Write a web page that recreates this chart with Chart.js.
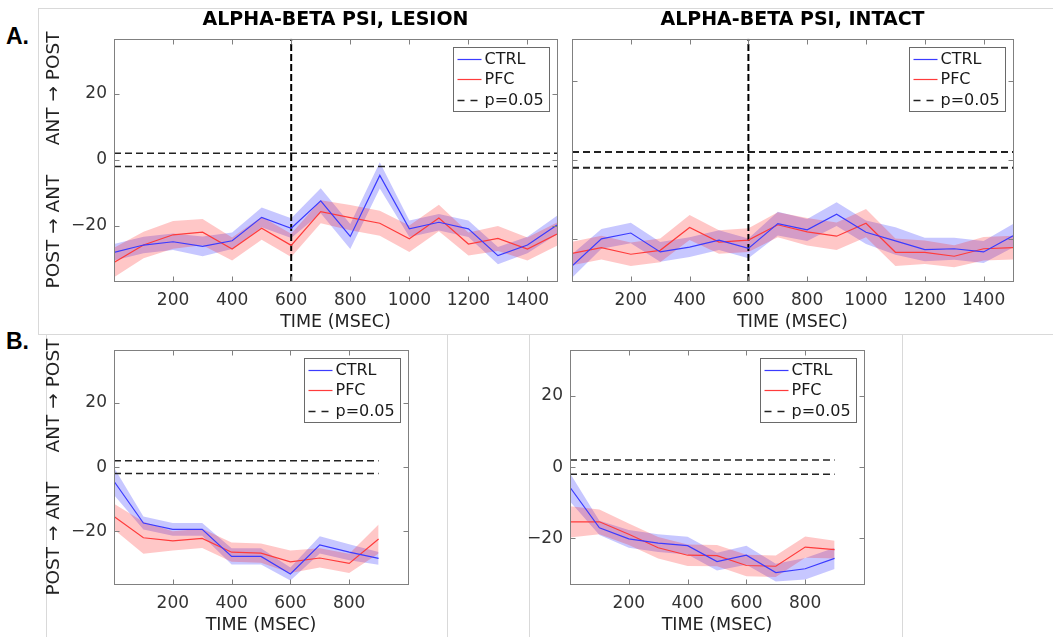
<!DOCTYPE html>
<html>
<head>
<meta charset="utf-8">
<script src="https://cdn.jsdelivr.net/npm/chart.js@4.4.0/dist/chart.umd.min.js"></script>
<style>
  body { margin: 0; width: 1053px; height: 637px; overflow: hidden; background: #fff; position: relative; }
  .box { position: absolute; }
  .frame { position: absolute; border: 0 solid #d9d9d9; }
  .lbl { position: absolute; font: bold 23px 'Liberation Sans', Arial, sans-serif; line-height: 1; color: #000; }
</style>
</head>
<body>
<!-- light panel borders from the pasted figure -->
<div class="frame" style="left:38px;top:8px;width:1015px;height:325px;border-top-width:1px;border-left-width:1px;border-bottom-width:1px"></div>
<div class="frame" style="left:46px;top:334px;width:400px;height:310px;border-left-width:1px;border-right-width:1px"></div>
<div class="frame" style="left:529px;top:334px;width:372px;height:310px;border-left-width:1px;border-right-width:1px"></div>

<div class="lbl" style="left:6px;top:25px">A.</div>
<div class="lbl" style="left:6px;top:330px">B.</div>

<div class="box" style="left:40px;top:0;width:527px;height:336px"><canvas id="aLesion"></canvas></div>
<div class="box" style="left:545px;top:0;width:478px;height:336px"><canvas id="aIntact"></canvas></div>
<div class="box" style="left:40px;top:333px;width:378px;height:306px"><canvas id="bLeft"></canvas></div>
<div class="box" style="left:520px;top:333px;width:354px;height:306px"><canvas id="bRight"></canvas></div>

<script>
// ---- data ----
const timeA = [0, 100, 200, 300, 400, 500, 600, 700, 800, 900, 1000, 1100, 1200, 1300, 1400, 1500];
const timeB = [0, 100, 200, 300, 400, 500, 600, 700, 800, 900];
const xTicksA = [200, 400, 600, 800, 1000, 1200, 1400];
const xTicksB = [200, 400, 600, 800];
const yTicks = [-20, 0, 20];
const sigLevel = [2, -2];
const stimOnset = 600;
const legendLabels = ['CTRL', 'PFC', 'p=0.05'];

const lesionCtrl    = [-28.0, -25.8, -24.8, -26.2, -24.5, -17.4, -20.7, -12.4, -23.2, -4.7, -20.9, -18.9, -20.9, -29.0, -25.8, -19.7];
const lesionCtrlSem = [2.5, 2.5, 2.5, 3, 2.5, 3, 3, 3.8, 3.8, 4, 2.5, 2.5, 2.5, 2.6, 2.5, 2.8];
const lesionPfc     = [-31.1, -25.8, -22.7, -21.9, -27.0, -20.7, -25.9, -15.7, -17.5, -19.2, -23.9, -17.6, -25.5, -23.8, -27.0, -22.5];
const lesionPfcSem  = [4.5, 4, 4.2, 4, 3.5, 3.5, 3.5, 3.5, 3.8, 3.8, 4, 4, 3.5, 3.8, 3.5, 3.5];

const intactCtrl    = [-27.0, -20.1, -18.6, -23.4, -22.2, -20.4, -22.5, -16.2, -17.8, -13.8, -18.4, -20.6, -22.8, -22.6, -23.4, -19.3];
const intactCtrlSem = [3, 2.5, 2.6, 2.5, 2.5, 2.5, 2.5, 3, 2.8, 3, 3, 3.5, 3, 2.8, 2.8, 3];
const intactPfc     = [-23.8, -22.3, -24.0, -23.0, -17.2, -20.9, -20.4, -16.5, -18.3, -19.4, -16.1, -23.5, -23.5, -24.5, -22.6, -22.3];
const intactPfcSem  = [3, 3, 3, 3, 3.2, 3, 3, 3.2, 3.5, 3.5, 3.6, 3.5, 3, 2.8, 3, 3];

const b1Ctrl    = [-4.4, -17.4, -19.4, -19.4, -27.8, -27.8, -33.3, -24.2, -26.5, -28.4];
const b1CtrlSem = [4.3, 2, 2, 2, 2.5, 2.5, 2, 2.7, 2.5, 2];
const b1Pfc     = [-15.4, -22.0, -23.0, -22.2, -26.5, -26.8, -29.5, -28.3, -30.0, -22.4];
const b1PfcSem  = [4, 5, 3, 3, 3, 3, 3.5, 3, 3, 4.5];

const b2Ctrl    = [-5.7, -17.1, -20.2, -21.4, -22.1, -26.6, -24.8, -29.7, -28.6, -25.7];
const b2CtrlSem = [4, 2, 2.5, 2.5, 2.5, 2.5, 2.7, 2.5, 3, 3];
const b2Pfc     = [-15.4, -15.4, -18.9, -22.7, -24.8, -24.9, -27.7, -27.9, -22.5, -23.2];
const b2PfcSem  = [4.4, 3.5, 3, 3, 3, 3, 3, 3, 3, 2.5];

// ---- styling ----
const ctrlColor = '#3b3bff';
const pfcColor = '#ff3b3b';
const ctrlFill = 'rgba(0,0,255,0.22)';
const pfcFill = 'rgba(255,0,0,0.22)';
const axisGrey = '#808080';
const yTitle = 'POST \u2192 ANT\u00a0\u00a0\u00a0\u00a0\u00a0ANT \u2192 POST';

Chart.defaults.font.family = "'DejaVu Sans', sans-serif";
Chart.defaults.color = '#333';

// matlab-like box, inward ticks and legend
const mframe = {
  id: 'mframe',
  afterDraw(chart) {
    const {ctx, chartArea: a, scales: {x, y}} = chart;
    ctx.save();
    ctx.strokeStyle = axisGrey;
    ctx.lineWidth = 1;
    const L = Math.round(a.left) + 0.5, T = Math.round(a.top) + 0.5;
    const R = Math.round(a.right) + 0.5, B = Math.round(a.bottom) + 0.5;
    ctx.strokeRect(L, T, R - L, B - T);
    ctx.beginPath();
    x.ticks.forEach(t => {
      const px = Math.round(x.getPixelForValue(t.value)) + 0.5;
      ctx.moveTo(px, B); ctx.lineTo(px, B - 5);
      ctx.moveTo(px, T); ctx.lineTo(px, T + 5);
    });
    y.ticks.forEach(t => {
      const py = Math.round(y.getPixelForValue(t.value)) + 0.5;
      ctx.moveTo(L, py); ctx.lineTo(L + 5, py);
      ctx.moveTo(R, py); ctx.lineTo(R - 5, py);
    });
    ctx.stroke();

    const w = 96, h = 64;
    const lx = Math.round(a.right - 8 - w) + 0.5, ly = Math.round(a.top + 8) + 0.5;
    ctx.fillStyle = '#fff';
    ctx.fillRect(lx, ly, w, h);
    ctx.strokeStyle = '#6a6a6a';
    ctx.strokeRect(lx, ly, w, h);
    const swatch = [[ctrlColor, [], 1.2], [pfcColor, [], 1.2], ['#222', [7, 6], 1.5]];
    ctx.font = "16px 'DejaVu Sans'";
    ctx.textBaseline = 'middle';
    legendLabels.forEach((lab, i) => {
      const cy = Math.round(ly + 11.6 + i * 20.3) + 0.5;
      ctx.strokeStyle = swatch[i][0];
      ctx.setLineDash(swatch[i][1]);
      ctx.lineWidth = swatch[i][2];
      ctx.beginPath(); ctx.moveTo(lx + 4, cy); ctx.lineTo(lx + 28, cy); ctx.stroke();
      ctx.setLineDash([]);
      ctx.fillStyle = '#1a1a1a';
      ctx.fillText(lab, lx + 31, cy);
    });
    ctx.restore();
  }
};

function pts(t, v) { return t.map((x, i) => ({x: x, y: v[i]})); }

function band(t, mean, sem, fill, order) {
  return [
    {data: pts(t, mean.map((m, i) => m + sem[i])), fill: '+1', backgroundColor: fill, borderWidth: 0, pointRadius: 0, order: order},
    {data: pts(t, mean.map((m, i) => m - sem[i])), fill: false, borderWidth: 0, pointRadius: 0, order: order}
  ];
}

function makeChart(id, o) {
  const xEnd = o.dashEnd;
  const datasets = [
    {data: pts(o.t, o.ctrl), borderColor: ctrlColor, borderWidth: 1.2, pointRadius: 0, fill: false, order: 0},
    {data: pts(o.t, o.pfc), borderColor: pfcColor, borderWidth: 1.2, pointRadius: 0, fill: false, order: 0},
    ...band(o.t, o.ctrl, o.ctrlSem, ctrlFill, 3),
    ...band(o.t, o.pfc, o.pfcSem, pfcFill, 2)
  ];
  sigLevel.forEach(s => datasets.push({
    data: [{x: 0, y: s}, {x: xEnd, y: s}], borderColor: '#222', borderWidth: o.dashW,
    borderDash: [7, 4], pointRadius: 0, fill: false, order: 1
  }));
  if (o.onset) {
    datasets.push({
      data: [{x: stimOnset, y: -o.yLim}, {x: stimOnset, y: o.yLim}], borderColor: '#000', borderWidth: 2,
      borderDash: [7, 3], pointRadius: 0, fill: false, order: 0
    });
  }
  return new Chart(document.getElementById(id), {
    type: 'line',
    data: {datasets: datasets},
    options: {
      responsive: true,
      maintainAspectRatio: false,
      animation: false,
      layout: {padding: {top: o.padTop, right: 10, left: 0, bottom: 0}},
      plugins: {
        legend: {display: false},
        tooltip: {enabled: false},
        title: {
          display: !!o.title, text: o.title, fullSize: false, color: '#000',
          font: {size: 19, weight: 'bold'}, padding: {top: 9, bottom: 7}
        }
      },
      scales: {
        x: {
          type: 'linear', min: 0, max: o.xMax,
          afterBuildTicks: s => { s.ticks = o.xTicks.map(v => ({value: v})); },
          afterFit: s => { s.height = 55; },
          grid: {display: false, drawTicks: false},
          border: {display: false},
          ticks: {font: {size: 17}, padding: 9, maxRotation: 0, color: '#333', callback: v => String(v)},
          title: {display: true, text: 'TIME (MSEC)', font: {size: 17.5}, color: '#222', padding: {top: 0, bottom: 3}}
        },
        y: {
          min: -o.yLim, max: o.yLim,
          afterBuildTicks: s => { s.ticks = yTicks.map(v => ({value: v})); },
          afterFit: s => { s.width = o.yWidth; },
          grid: {display: false, drawTicks: false},
          border: {display: false},
          ticks: {display: o.yLabels, font: {size: 17}, padding: 7, color: '#333',
                  callback: v => v < 0 ? '\u2212' + Math.abs(v) : String(v)},
          title: {display: o.yTitle, text: yTitle, font: {size: 18.5}, color: '#222', padding: {top: 3, bottom: 0}}
        }
      }
    },
    plugins: [mframe]
  });
}

makeChart('aLesion', {
  t: timeA, ctrl: lesionCtrl, ctrlSem: lesionCtrlSem, pfc: lesionPfc, pfcSem: lesionPfcSem,
  title: 'ALPHA-BETA PSI, LESION', xMax: 1500, xTicks: xTicksA, dashEnd: 1500, dashW: 1.5,
  yLim: 36.7, yWidth: 74, yLabels: true, yTitle: true, onset: true, padTop: 0
});
makeChart('aIntact', {
  t: timeA, ctrl: intactCtrl, ctrlSem: intactCtrlSem, pfc: intactPfc, pfcSem: intactPfcSem,
  title: 'ALPHA-BETA PSI, INTACT', xMax: 1500, xTicks: xTicksA, dashEnd: 1500, dashW: 2,
  yLim: 30.8, yWidth: 27, yLabels: false, yTitle: false, onset: true, padTop: 0
});
makeChart('bLeft', {
  t: timeB, ctrl: b1Ctrl, ctrlSem: b1CtrlSem, pfc: b1Pfc, pfcSem: b1PfcSem,
  title: '', xMax: 1000, xTicks: xTicksB, dashEnd: 900, dashW: 1.5,
  yLim: 36.4, yWidth: 74, yLabels: true, yTitle: true, onset: false, padTop: 10
});
makeChart('bRight', {
  t: timeB, ctrl: b2Ctrl, ctrlSem: b2CtrlSem, pfc: b2Pfc, pfcSem: b2PfcSem,
  title: '', xMax: 1000, xTicks: xTicksB, dashEnd: 900, dashW: 1.5,
  yLim: 32.9, yWidth: 50, yLabels: true, yTitle: false, onset: false, padTop: 10
});
</script>
</body>
</html>
